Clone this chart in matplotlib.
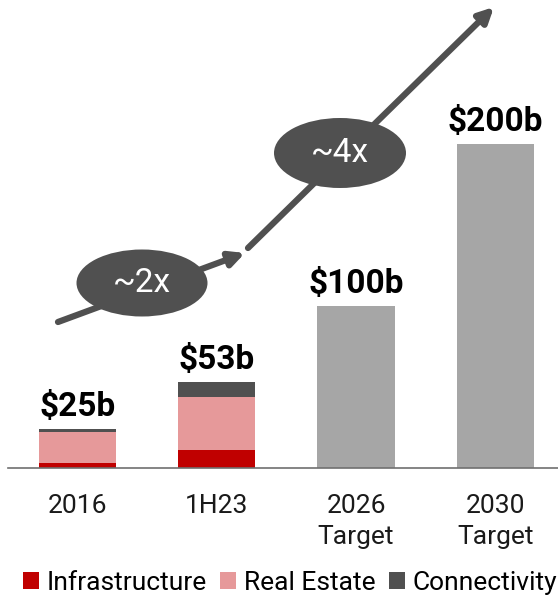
import matplotlib
matplotlib.use("Agg")
import matplotlib.pyplot as plt
from matplotlib.patches import Ellipse, FancyArrowPatch

plt.rcParams['font.family'] = ['Roboto', 'DejaVu Sans']

categories = ["2016", "1H23", "2026\nTarget", "2030\nTarget"]
infrastructure = [3, 11, 0, 0]
real_estate = [19, 33, 0, 0]
connectivity = [2, 9, 0, 0]
targets = [0, 0, 100, 200]
totals_labels = ["$25b", "$53b", "$100b", "$200b"]
multiples = ["~2x", "~4x"]

c_inf = "#C00000"
c_re = "#E6999A"
c_con = "#505050"
c_tgt = "#A6A6A6"

W, H = 558, 598
fig = plt.figure(figsize=(W/100, H/100), dpi=100)
base_px = 468
ax = fig.add_axes([8/W, (H-base_px)/H, (W-8)/W, base_px/H])
ppb = 1.62  # px per billion
ax.set_ylim(0, base_px/ppb)
x0, dx = 77.5, 139.3
ax.set_xlim((8-x0)/dx, (W-x0)/dx)

x = list(range(len(categories)))
w = 0.555
bottom2 = [a+b for a, b in zip(infrastructure, real_estate)]
ax.bar(x, infrastructure, w, color=c_inf, label="Infrastructure")
ax.bar(x, real_estate, w, bottom=infrastructure, color=c_re, label="Real Estate")
ax.bar(x, connectivity, w, bottom=bottom2, color=c_con, label="Connectivity")
ax.bar(x, targets, w, color=c_tgt)

tops = [i+r+c+t for i, r, c, t in zip(infrastructure, real_estate, connectivity, targets)]
for xi, top, lab in zip(x, tops, totals_labels):
    ax.text(xi, top + 4, lab, ha='center', va='bottom', fontsize=24, fontweight='bold', color='black')

for s in ['top', 'right', 'left']:
    ax.spines[s].set_visible(False)
ax.spines['bottom'].set_color('#707070')
ax.spines['bottom'].set_linewidth(1.2)
ax.set_yticks([])
ax.set_xticks(x)
ax.set_xticklabels(categories, fontsize=19, color='#1a1a1a', linespacing=1.35)
ax.tick_params(axis='x', length=0, pad=19)

def d(px, py):
    return ((px-x0)/dx, (base_px-py)/ppb)

arrow_col = "#505050"
for (p1, p2) in [((58, 322), (245, 253)), ((248, 248), (494, 7))]:
    a = FancyArrowPatch(d(*p1), d(*p2), arrowstyle='-|>', mutation_scale=22,
                        lw=4.5, color=arrow_col, clip_on=False, shrinkA=0, shrinkB=0)
    ax.add_patch(a)

for (cx, cy, ew, eh), txt in zip([(142, 283, 131, 67), (340, 153, 132, 70)], multiples):
    dc = d(cx, cy)
    e = Ellipse(dc, ew/dx, eh/ppb, facecolor=arrow_col, edgecolor='none', clip_on=False, zorder=5)
    ax.add_patch(e)
    ax.text(dc[0], dc[1], txt, ha='center', va='center', fontsize=24, color='white', zorder=6)

fig.legend(loc='center', bbox_to_anchor=(0.52, 1-583/H), ncol=3, frameon=False,
           fontsize=19, handlelength=0.6, handleheight=0.6, handletextpad=0.3,
           columnspacing=0.5, borderaxespad=0)

fig.savefig("out.png", dpi=100)
